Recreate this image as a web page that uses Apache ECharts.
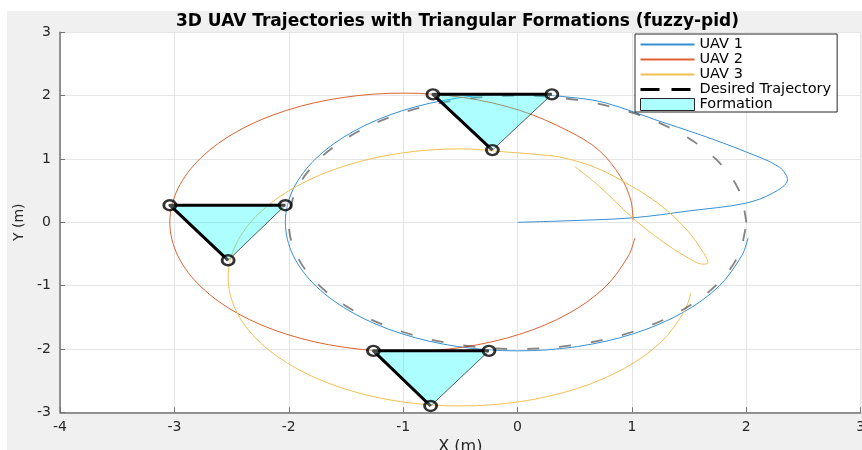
<!DOCTYPE html>
<html>
<head>
<meta charset="utf-8">
<script src="https://cdn.jsdelivr.net/npm/echarts@6/dist/echarts.min.js"></script>
<style>
  html, body { margin: 0; padding: 0; background: #ffffff; }
  #frame { position: absolute; left: 7px; top: 11px; width: 855px; height: 439px; background: #f0f0f0; }
  #chart { position: absolute; left: 0; top: 0; width: 862px; height: 450px; }
</style>
</head>
<body>
<div id="frame"></div>
<div id="chart"></div>
<script>
// Leader UAV: starts at the origin, overshoots, then settles on the reference circle
const uav1Path = [
  [0, 0], [0.37, 0.02], [1.0, 0.07], [1.5, 0.18], [1.99, 0.30], [2.23, 0.46], [2.36, 0.67],
  [2.29, 0.87], [2.0, 1.11], [1.6, 1.38], [1.22, 1.61], [0.78, 1.88],
  [0.525, 1.961], [0, 2.03], [-0.525, 1.961], [-1.015, 1.758], [-1.435, 1.435], [-1.758, 1.015],
  [-1.961, 0.525], [-2.03, 0], [-1.961, -0.525], [-1.758, -1.015], [-1.435, -1.435], [-1.015, -1.758],
  [-0.525, -1.961], [0, -2.03], [0.525, -1.961], [1.015, -1.758], [1.435, -1.435], [1.758, -1.015],
  [1.961, -0.525], [2.015, -0.247]
];

// Left wing UAV
const uav2Path = [
  [1.01, 0.03], [0.99, 0.35], [0.9, 0.72], [0.71, 1.14], [0.443, 1.443], [0.02, 1.767],
  [-0.472, 1.970], [-1, 2.04], [-1.528, 1.970], [-2.02, 1.767], [-2.443, 1.443], [-2.767, 1.02],
  [-2.970, 0.528], [-3.04, 0], [-2.970, -0.528], [-2.767, -1.02], [-2.443, -1.443], [-2.02, -1.767],
  [-1.528, -1.970], [-1, -2.04], [-0.472, -1.970], [0.02, -1.767], [0.443, -1.443], [0.767, -1.02],
  [0.970, -0.528], [1.025, -0.25]
];

// Rear UAV: loops back before joining its offset circle
const uav3Path = [
  [0.50, 0.88], [0.72, 0.56], [1.0, 0.08], [1.25, -0.28], [1.48, -0.55], [1.62, -0.66], [1.665, -0.64],
  [1.61, -0.44], [1.48, -0.12], [1.25, 0.27], [0.95, 0.62], [0.66, 0.88], [0.37, 1.03], [0.18, 1.07],
  [-0.1, 1.11], [-0.5, 1.16], [-1.025, 1.091], [-1.515, 0.888], [-1.935, 0.565], [-2.258, 0.145],
  [-2.461, -0.345], [-2.53, -0.87], [-2.461, -1.395], [-2.258, -1.885], [-1.935, -2.305],
  [-1.515, -2.628], [-1.025, -2.831], [-0.5, -2.9], [0.025, -2.831], [0.515, -2.628],
  [0.935, -2.305], [1.258, -1.885], [1.461, -1.395], [1.515, -1.117]
];

// Reference circle (radius 2 about the origin)
const desiredPath = [
  [2, 0], [1.932, 0.518], [1.732, 1], [1.414, 1.414], [1, 1.732], [0.518, 1.932], [0, 2],
  [-0.518, 1.932], [-1, 1.732], [-1.414, 1.414], [-1.732, 1], [-1.932, 0.518], [-2, 0],
  [-1.932, -0.518], [-1.732, -1], [-1.414, -1.414], [-1, -1.732], [-0.518, -1.932], [0, -2],
  [0.518, -1.932], [1, -1.732], [1.414, -1.414], [1.732, -1], [1.932, -0.518], [2, 0]
];

// Formation snapshots: positions of each UAV at three instants
const uav1Snap = [[0.30, 2.02], [-2.03, 0.27], [-0.25, -2.03]];
const uav2Snap = [[-0.74, 2.02], [-3.04, 0.27], [-1.26, -2.03]];
const uav3Snap = [[-0.22, 1.14], [-2.53, -0.60], [-0.76, -2.90]];

const xTicks = { min: -4, max: 3, step: 1 };
const yTicks = { min: -3, max: 3, step: 1 };

const seriesNames = ['UAV 1', 'UAV 2', 'UAV 3', 'Desired Trajectory', 'Formation'];
const titleText = '3D UAV Trajectories with Triangular Formations (fuzzy-pid)';

const FONT = 'DejaVu Sans';
const AXIS_COLOR = '#262626';

const triangles = uav1Snap.map((p, i) => [p[0], p[1], uav2Snap[i][0], uav2Snap[i][1], uav3Snap[i][0], uav3Snap[i][1]]);
const vertices = [].concat(uav1Snap, uav2Snap, uav3Snap);

function trajectory(name, data, color) {
  return {
    name: name, type: 'line', data: data, smooth: 0.34, symbol: 'none', showSymbol: false,
    lineStyle: { color: color, width: 1 }, itemStyle: { color: color },
    emphasis: { disabled: true }, silent: true, z: 2
  };
}

const chart = echarts.init(document.getElementById('chart'), null, { renderer: 'canvas' });

chart.setOption({
  animation: false,
  backgroundColor: 'transparent',
  title: {
    text: titleText, left: 176, top: 13, padding: 0,
    textStyle: { fontFamily: FONT, fontSize: 17, fontWeight: 'bold', color: '#000' }
  },
  grid: {
    left: 60, right: 1.3, top: 32.3, bottom: 37.7, show: true,
    backgroundColor: '#ffffff', borderWidth: 0, outerBoundsMode: 'none', containLabel: false
  },
  xAxis: {
    type: 'value', min: xTicks.min, max: xTicks.max, interval: xTicks.step,
    name: 'X (m)', nameLocation: 'middle', nameGap: 24,
    nameTextStyle: { fontFamily: FONT, fontSize: 16, color: AXIS_COLOR },
    axisLine: { show: true, onZero: false, lineStyle: { color: '#737373', width: 1.5 } },
    axisTick: { show: true, inside: true, length: 5, lineStyle: { color: '#737373' } },
    axisLabel: { fontFamily: FONT, fontSize: 14, color: AXIS_COLOR, margin: 8 },
    splitLine: { show: true, lineStyle: { color: '#e4e4e4', width: 1 } }
  },
  yAxis: {
    type: 'value', min: yTicks.min, max: yTicks.max, interval: yTicks.step,
    name: 'Y (m)', nameLocation: 'middle', nameGap: 34,
    nameTextStyle: { fontFamily: FONT, fontSize: 14, color: AXIS_COLOR },
    axisLine: { show: true, onZero: false, lineStyle: { color: '#737373', width: 1.5 } },
    axisTick: { show: true, inside: true, length: 5, lineStyle: { color: '#737373' } },
    axisLabel: { fontFamily: FONT, fontSize: 14, color: AXIS_COLOR, margin: 9 },
    splitLine: { show: true, lineStyle: { color: '#e4e4e4', width: 1 } }
  },
  legend: {
    orient: 'vertical', left: 635, top: 34, padding: [3, 6, 0, 4],
    itemWidth: 54, itemHeight: 12, itemGap: 0,
    backgroundColor: '#ffffff', borderColor: AXIS_COLOR, borderWidth: 1,
    selectedMode: false,
    textStyle: { fontFamily: FONT, fontSize: 14.5, color: '#000', lineHeight: 14.7 },
    data: [
      { name: seriesNames[0], itemStyle: { opacity: 0 } },
      { name: seriesNames[1], itemStyle: { opacity: 0 } },
      { name: seriesNames[2], itemStyle: { opacity: 0 } },
      { name: seriesNames[3], itemStyle: { opacity: 0 }, lineStyle: { color: '#000', width: 3, type: [19, 12], opacity: 1 } },
      { name: seriesNames[4], icon: 'rect', itemStyle: { color: 'rgba(0,255,255,0.32)', borderColor: AXIS_COLOR, borderWidth: 1, opacity: 1 } }
    ]
  },
  series: [
    trajectory(seriesNames[0], uav1Path, '#3590d2'),
    trajectory(seriesNames[1], uav2Path, '#de6232'),
    trajectory(seriesNames[2], uav3Path, '#f1c052'),
    {
      name: seriesNames[3], type: 'line', data: desiredPath, smooth: 0.34, symbol: 'none', showSymbol: false,
      lineStyle: { color: '#303030', width: 1.8, type: [12, 20], opacity: 0.6 },
      itemStyle: { color: '#000' }, silent: true, z: 3
    },
    {
      name: seriesNames[4], type: 'custom', data: triangles, silent: true, z: 4,
      encode: { x: [0, 2, 4], y: [1, 3, 5] },
      itemStyle: { color: 'rgba(0,255,255,0.32)' },
      renderItem: function (params, api) {
        const a = api.coord([api.value(0), api.value(1)]);
        const b = api.coord([api.value(2), api.value(3)]);
        const c = api.coord([api.value(4), api.value(5)]);
        return {
          type: 'group',
          children: [
            { type: 'polygon', shape: { points: [a, b, c] },
              style: { fill: 'rgba(0,255,255,0.32)', stroke: '#303030', lineWidth: 0.8 } },
            { type: 'polyline', shape: { points: [a, b, c] },
              style: { fill: null, stroke: '#000', lineWidth: 3, lineJoin: 'round' } }
          ]
        };
      }
    },
    {
      name: 'positions', type: 'scatter', data: vertices, symbol: 'circle', symbolSize: [12, 10],
      itemStyle: { color: 'rgba(255,255,255,0.35)', borderColor: '#000', borderWidth: 2.6 },
      silent: true, z: 5
    }
  ]
});
</script>
</body>
</html>
